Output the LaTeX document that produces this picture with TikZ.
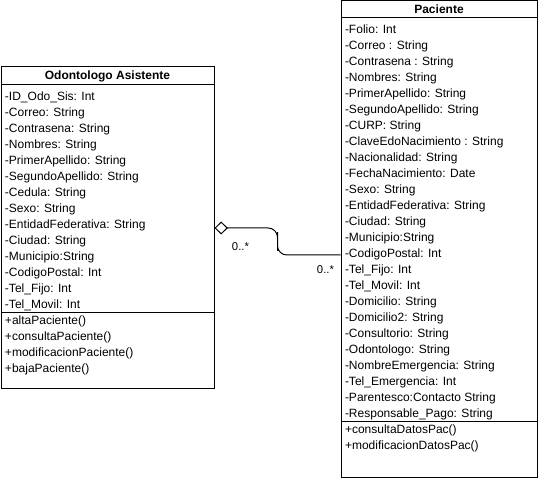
\documentclass[tikz,border=0pt]{standalone}
\usepackage{fontspec}
\setmainfont{Liberation Sans}
\usetikzlibrary{
        arrows.meta,
        calc,
        fit,
        positioning
    }
\tikzset{
    classtitle/.style={draw,inner sep=0pt,outer sep=0pt,font=\bfseries\fontsize{9}{12}\selectfont},
    classpart/.style={draw,inner sep=0pt,outer sep=0pt,font=\fontsize{9}{12}\selectfont},
    mult/.style={inner sep=0pt,font=\fontsize{8.5}{10}\selectfont},
    assoc/.style={rounded corners=7pt,{Diamond[open,length=10pt,width=9.75pt]}-}
}

\begin{document}
\begin{tikzpicture}[x=0.75pt,y=-0.75pt,line width=0.75pt]
    \useasboundingbox (0,0) rectangle (540,491);
    % Odontologo Asistente
    \node[classtitle,anchor=north west,minimum width=159.75pt,minimum height=13.5pt] (oaTitle) at (1,67) {Odontologo Asistente};
    \node[classpart,below=0pt of oaTitle] (oaAttr) {\parbox[t][171pt][t]{159.75pt}{\leftskip=3pt\vspace*{3pt}\strut
        -ID\_Odo\_Sis: Int\\
        -Correo: String\\
        -Contrasena: String\\
        -Nombres: String\\
        -PrimerApellido: String\\
        -SegundoApellido: String\\
        -Cedula: String\\
        -Sexo: String\\
        -EntidadFederativa: String\\
        -Ciudad: String\\
        -Municipio:String\\
        -CodigoPostal: Int\\
        -Tel\_Fijo: Int\\
        -Tel\_Movil: Int}};
    \node[classpart,below=0pt of oaAttr] (oaMet) {\parbox[t][57pt][t]{159.75pt}{\leftskip=3pt\strut
        +altaPaciente()\\
        +consultaPaciente()\\
        +modificacionPaciente()\\
        +bajaPaciente()}};
    \node[fit=(oaTitle)(oaMet),inner sep=0pt] (oa) {};
    % Paciente
    \node[classtitle,anchor=north west,minimum width=147pt,minimum height=12.75pt] (pacTitle) at (341,1) {Paciente};
    \node[classpart,below=0pt of pacTitle] (pacAttr) {\parbox[t][303pt][t]{147pt}{\leftskip=3pt\vspace*{3.4pt}\strut
        -Folio: Int\\
        -Correo : String\\
        -Contrasena : String\\
        -Nombres: String\\
        -PrimerApellido: String\\
        -SegundoApellido: String\\
        -CURP: String\\
        -ClaveEdoNacimiento : String\\
        -Nacionalidad: String\\
        -FechaNacimiento: Date\\
        -Sexo: String\\
        -EntidadFederativa: String\\
        -Ciudad: String\\
        -Municipio:String\\
        -CodigoPostal: Int\\
        -Tel\_Fijo: Int\\
        -Tel\_Movil: Int\\
        -Domicilio: String\\
        -Domicilio2: String\\
        -Consultorio: String\\
        -Odontologo: String\\
        -NombreEmergencia: String\\
        -Tel\_Emergencia: Int\\
        -Parentesco:Contacto String\\
        -Responsable\_Pago: String}};
    \node[classpart,below=0pt of pacAttr] (pacMet) {\parbox[t][42pt][t]{147pt}{\leftskip=3pt\vspace*{0.6pt}\strut
        +consultaDatosPac()\\
        +modificacionDatosPac()}};
    \node[fit=(pacTitle)(pacMet),inner sep=0pt] (pac) {};
    % association
    \coordinate (pacEnd) at ([shift={(0,15.5)}]pac.west);
    \draw[assoc] (oa.east) -| ($(oa.east)!0.5!(pacEnd)$) |- (pacEnd);
    \node[mult] (oaMult) at ([shift={(26,19)}]oa.east) {0..*};
    \node[mult] (pacMult) at ([shift={(-15,30.5)}]pac.west) {0..*};
\end{tikzpicture}
\end{document}
